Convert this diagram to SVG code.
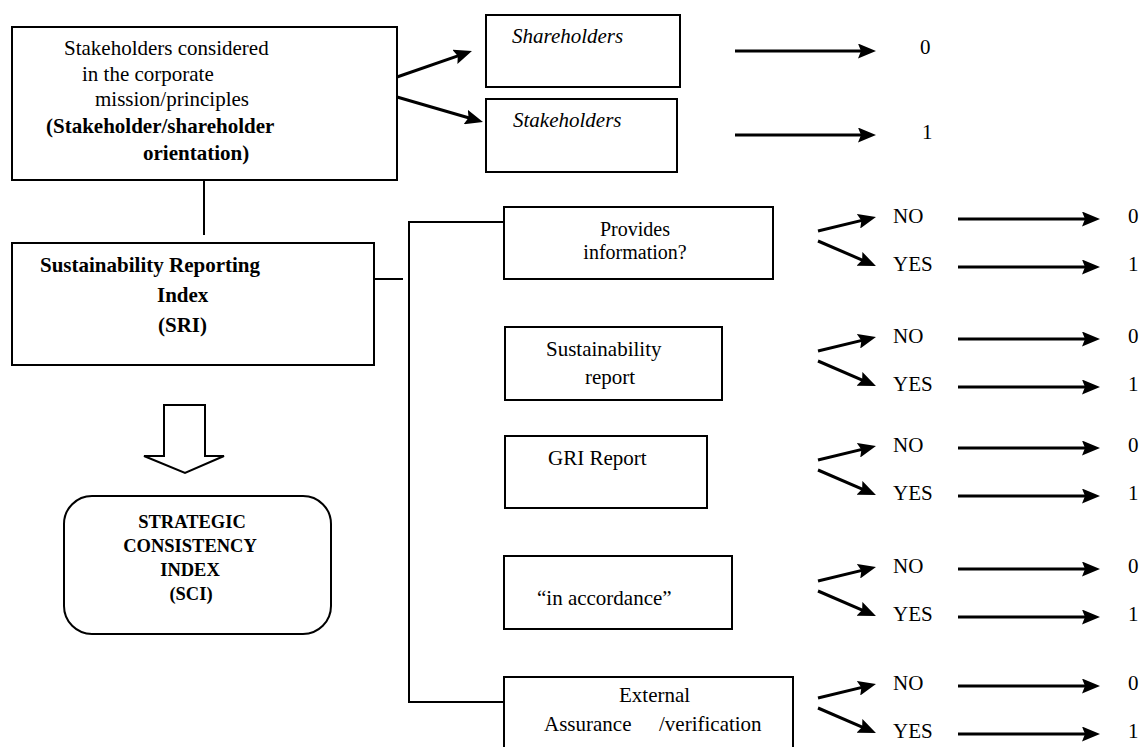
<svg xmlns="http://www.w3.org/2000/svg" width="1139" height="747" viewBox="0 0 1139 747">
<style>
text{font-family:"Liberation Serif","Times New Roman",serif;font-size:21px;fill:#000}
.b{font-weight:bold}
.i{font-style:italic}
.sm{font-size:20px}
.sci{font-weight:bold;font-size:18.5px}
.box{fill:#fff;stroke:#000;stroke-width:2}
.ln{fill:none;stroke:#000;stroke-width:2}
.ar{fill:none;stroke:#000;stroke-width:3;marker-end:url(#ah)}
</style>
<defs>
<marker id="ah" viewBox="0 0 18 15" markerUnits="userSpaceOnUse" markerWidth="18" markerHeight="15" refX="10" refY="7.5" orient="auto">
<path d="M0,0 L18,7.5 L0,15 L3,7.5 Z" fill="#000"/>
</marker>
</defs>
<rect width="1139" height="747" fill="#fff"/>

<g id="connectors">
<line class="ln" x1="204" y1="180" x2="204" y2="235"/>
<line class="ln" x1="374" y1="279" x2="403" y2="279"/>
<polyline class="ln" points="504,222 409,222 409,702 504,702"/>
<line class="ar" x1="397" y1="77" x2="464.4" y2="53.6"/>
<line class="ar" x1="397" y1="97" x2="475.3" y2="119.8"/>
<line class="ar" x1="735" y1="51" x2="868" y2="51"/>
<line class="ar" x1="735" y1="135" x2="868" y2="135"/>
<polygon points="164,405 205,405 205,456 224,456 185,473 144,456 164,456" fill="#fff" stroke="#000" stroke-width="2"/>
</g>

<g id="node-mission">
<rect class="box" x="12" y="27" width="385" height="153"/>
<text x="64" y="55">Stakeholders considered</text>
<text x="82" y="81">in the corporate</text>
<text x="95" y="106">mission/principles</text>
<text class="b" x="46" y="133">(Stakeholder/shareholder</text>
<text class="b" x="143" y="160">orientation)</text>
</g>

<g id="node-shareholders">
<rect class="box" x="486" y="15" width="194" height="72"/>
<text class="i" x="512" y="43">Shareholders</text>
<text x="920" y="54">0</text>
</g>

<g id="node-stakeholders">
<rect class="box" x="486" y="99" width="191" height="73"/>
<text class="i" x="513" y="127">Stakeholders</text>
<text x="922" y="139">1</text>
</g>

<g id="node-sri">
<rect class="box" x="12" y="243" width="362" height="122"/>
<text class="b" x="40" y="272">Sustainability Reporting</text>
<text class="b" x="157" y="302">Index</text>
<text class="b" x="158" y="332">(SRI)</text>
</g>

<g id="node-sci">
<rect class="box" x="64" y="496" width="267" height="138" rx="28" ry="28"/>
<text class="sci" x="192" y="528" text-anchor="middle">STRATEGIC</text>
<text class="sci" x="190" y="552" text-anchor="middle">CONSISTENCY</text>
<text class="sci" x="190" y="576" text-anchor="middle">INDEX</text>
<text class="sci" x="191" y="600" text-anchor="middle">(SCI)</text>
</g>

<g id="node-provides">
<rect class="box" x="504" y="207" width="269" height="72"/>
<text class="sm" x="635" y="236" text-anchor="middle">Provides</text>
<text class="sm" x="635" y="259" text-anchor="middle">information?</text>
</g>

<g id="node-sreport">
<rect class="box" x="505" y="327" width="217" height="73"/>
<text x="546" y="356">Sustainability</text>
<text x="585" y="384">report</text>
</g>

<g id="node-gri">
<rect class="box" x="505" y="436" width="202" height="72"/>
<text x="548" y="465">GRI Report</text>
</g>

<g id="node-accordance">
<rect class="box" x="504" y="556" width="228" height="73"/>
<text x="537" y="605">“in accordance”</text>
</g>

<g id="node-assurance">
<rect class="box" x="504" y="677" width="289" height="80"/>
<text x="619" y="702">External</text>
<text x="544" y="731">Assurance</text>
<text x="659" y="731">/verification</text>
</g>

<g id="outcomes">
<g transform="translate(0,223)">
<line class="ar" x1="818" y1="8" x2="868.2" y2="-4.1"/>
<line class="ar" x1="818" y1="18" x2="868.6" y2="39.8"/>
<line class="ar" x1="958" y1="-4" x2="1092" y2="-4"/>
<line class="ar" x1="958" y1="44" x2="1092" y2="44"/>
<text x="893" y="0">NO</text><text x="893" y="48">YES</text>
<text x="1128" y="0">0</text><text x="1128" y="48">1</text>
</g>
<g transform="translate(0,343)">
<line class="ar" x1="818" y1="8" x2="868.2" y2="-4.1"/>
<line class="ar" x1="818" y1="18" x2="868.6" y2="39.8"/>
<line class="ar" x1="958" y1="-4" x2="1092" y2="-4"/>
<line class="ar" x1="958" y1="44" x2="1092" y2="44"/>
<text x="893" y="0">NO</text><text x="893" y="48">YES</text>
<text x="1128" y="0">0</text><text x="1128" y="48">1</text>
</g>
<g transform="translate(0,452)">
<line class="ar" x1="818" y1="8" x2="868.2" y2="-4.1"/>
<line class="ar" x1="818" y1="18" x2="868.6" y2="39.8"/>
<line class="ar" x1="958" y1="-4" x2="1092" y2="-4"/>
<line class="ar" x1="958" y1="44" x2="1092" y2="44"/>
<text x="893" y="0">NO</text><text x="893" y="48">YES</text>
<text x="1128" y="0">0</text><text x="1128" y="48">1</text>
</g>
<g transform="translate(0,573)">
<line class="ar" x1="818" y1="8" x2="868.2" y2="-4.1"/>
<line class="ar" x1="818" y1="18" x2="868.6" y2="39.8"/>
<line class="ar" x1="958" y1="-4" x2="1092" y2="-4"/>
<line class="ar" x1="958" y1="44" x2="1092" y2="44"/>
<text x="893" y="0">NO</text><text x="893" y="48">YES</text>
<text x="1128" y="0">0</text><text x="1128" y="48">1</text>
</g>
<g transform="translate(0,690)">
<line class="ar" x1="818" y1="8" x2="868.2" y2="-4.1"/>
<line class="ar" x1="818" y1="18" x2="868.6" y2="39.8"/>
<line class="ar" x1="958" y1="-4" x2="1092" y2="-4"/>
<line class="ar" x1="958" y1="44" x2="1092" y2="44"/>
<text x="893" y="0">NO</text><text x="893" y="48">YES</text>
<text x="1128" y="0">0</text><text x="1128" y="48">1</text>
</g>
</g>
</svg>
